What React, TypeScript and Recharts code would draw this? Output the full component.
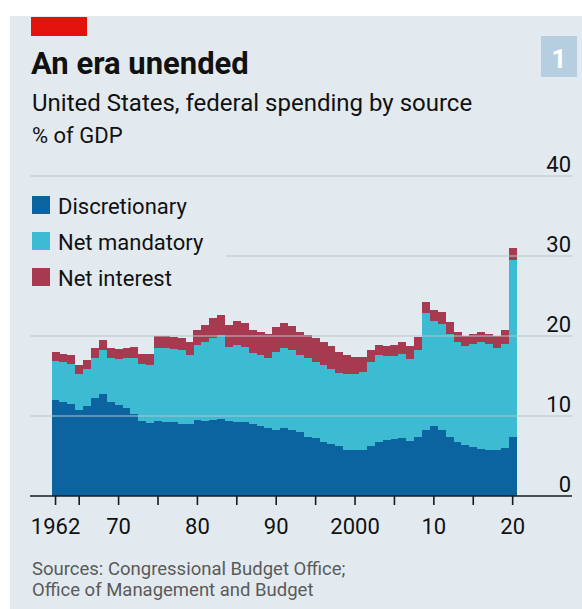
import { BarChart, Bar, XAxis, YAxis, ReferenceLine } from 'recharts';

// % of GDP, fiscal years 1962-2020
const years = [
  1962, 1963, 1964, 1965, 1966, 1967, 1968, 1969, 1970, 1971,
  1972, 1973, 1974, 1975, 1976, 1977, 1978, 1979, 1980, 1981,
  1982, 1983, 1984, 1985, 1986, 1987, 1988, 1989, 1990, 1991,
  1992, 1993, 1994, 1995, 1996, 1997, 1998, 1999, 2000, 2001,
  2002, 2003, 2004, 2005, 2006, 2007, 2008, 2009, 2010, 2011,
  2012, 2013, 2014, 2015, 2016, 2017, 2018, 2019, 2020,
];

const discretionary = [
  12.0, 11.8, 11.5, 10.7, 11.2, 12.2, 12.7, 11.8, 11.4, 11.0,
  10.3, 9.4, 9.1, 9.4, 9.3, 9.3, 9.0, 9.0, 9.5, 9.4,
  9.5, 9.6, 9.4, 9.3, 9.3, 9.0, 8.75, 8.45, 8.25, 8.45,
  8.2, 8.0, 7.4, 7.2, 6.8, 6.5, 6.2, 5.8, 5.75, 5.8,
  6.2, 6.8, 7.0, 7.1, 7.2, 6.9, 7.4, 8.25, 8.7, 8.25,
  7.4, 6.8, 6.4, 6.1, 5.9, 5.75, 5.75, 6.0, 7.4,
];

const netMandatory = [
  4.9, 4.9, 5.0, 4.6, 4.7, 5.1, 5.6, 5.4, 5.7, 6.2,
  7.0, 7.1, 7.3, 9.1, 9.2, 9.1, 9.2, 8.6, 9.4, 9.8,
  10.3, 10.5, 9.2, 9.6, 9.3, 8.9, 8.85, 8.85, 9.75, 10.05,
  10.0, 9.6, 9.9, 9.5, 9.6, 9.4, 9.2, 9.5, 9.55, 9.7,
  10.55, 10.8, 10.45, 10.4, 10.5, 10.2, 10.9, 14.65, 13.15, 13.25,
  12.9, 12.45, 12.3, 12.95, 13.35, 13.25, 12.75, 13.05, 22.1,
];

const netInterest = [
  1.1, 1.1, 1.1, 1.1, 1.1, 1.2, 1.2, 1.3, 1.3, 1.3,
  1.3, 1.3, 1.4, 1.5, 1.5, 1.5, 1.6, 1.7, 1.9, 2.2,
  2.5, 2.5, 2.8, 3.0, 3.0, 2.9, 2.9, 3.0, 3.1, 3.1,
  3.0, 2.9, 2.8, 3.0, 2.9, 2.8, 2.6, 2.3, 2.1, 1.9,
  1.5, 1.3, 1.3, 1.4, 1.6, 1.6, 1.6, 1.4, 1.4, 1.5,
  1.4, 1.3, 1.3, 1.2, 1.3, 1.3, 1.5, 1.7, 1.5,
];

const xTicks = [1962, 1965, 1970, 1975, 1980, 1985, 1990, 1995, 2000, 2005, 2010, 2015, 2020];
const xTickLabels: Record<number, string> = {
  1962: '1962', 1970: '70', 1980: '80', 1990: '90', 2000: '2000', 2010: '10', 2020: '20',
};
const yTicks = [0, 10, 20, 30, 40];

const COLORS = {
  discretionary: '#0b64a0',
  mandatory: '#3dbbd3',
  interest: '#a63a50',
  panel: '#e2eaf0',
  grid: '#b8c3cb',
  text: '#111111',
  source: '#5a5a5a',
};

const FONT = 'Roboto, sans-serif';

const data = years.map((year, i) => ({
  year,
  discretionary: discretionary[i],
  mandatory: netMandatory[i],
  interest: netInterest[i],
}));

function XTick(props: any) {
  const { x, y, payload } = props;
  const label = xTickLabels[payload.value] ?? '';
  return (
    <text x={x} y={y + 27} textAnchor="middle" fontFamily={FONT} fontSize={22} fill={COLORS.text}>
      {label}
    </text>
  );
}

function YTick(props: any) {
  const { x, y, payload } = props;
  return (
    <text x={x - 1} y={y - 4} textAnchor="end" fontFamily={FONT} fontSize={22} fill={COLORS.text}>
      {payload.value}
    </text>
  );
}

const legendItems = [
  { label: 'Discretionary', color: COLORS.discretionary },
  { label: 'Net mandatory', color: COLORS.mandatory },
  { label: 'Net interest', color: COLORS.interest },
];

export default function App() {
  return (
    <div style={{ position: 'absolute', left: 0, top: 0, width: 582, height: 609, background: '#fff', overflow: 'hidden' }}>
      <style>{'.recharts-bar-rectangle path { shape-rendering: crispEdges; }'}</style>
      <div style={{ position: 'absolute', left: 10, top: 16, width: 572, height: 593, background: COLORS.panel }} />
      <div style={{ position: 'absolute', left: 0, top: 0 }}>
        <BarChart
          width={582}
          height={609}
          data={data}
          barCategoryGap={0}
          barGap={0}
          margin={{ top: 176, right: 10, bottom: 73, left: 30 }}
        >
          <XAxis
            dataKey="year"
            type="category"
            ticks={xTicks}
            interval={0}
            padding={{ left: 21.6, right: 55.4 }}
            height={40}
            axisLine={false}
            tickLine={{ stroke: '#1a1a1a', strokeWidth: 1.6 }}
            tickSize={9}
            tick={<XTick />}
          />
          <YAxis
            orientation="right"
            mirror
            width={1}
            domain={[0, 40]}
            ticks={yTicks}
            interval={0}
            axisLine={false}
            tickLine={false}
            tickSize={0}
            tickMargin={0}
            tick={<YTick />}
          />
          {yTicks.map((v) =>
            v === 0 ? null : (
              <ReferenceLine key={v} y={v} stroke={COLORS.grid} strokeWidth={1.2} ifOverflow="visible" />
            ),
          )}
          <Bar dataKey="discretionary" stackId="a" fill={COLORS.discretionary} isAnimationActive={false} />
          <Bar dataKey="mandatory" stackId="a" fill={COLORS.mandatory} isAnimationActive={false} />
          <Bar dataKey="interest" stackId="a" fill={COLORS.interest} isAnimationActive={false} />
          <ReferenceLine y={0} stroke="#1a1a1a" strokeWidth={1.6} ifOverflow="visible" />
        </BarChart>
      </div>
      <svg
        width={582}
        height={609}
        style={{ position: 'absolute', left: 0, top: 0, pointerEvents: 'none' }}
        fontFamily={FONT}
      >
        <rect x={31} y={17} width={56} height={19} fill="#e3120b" />
        <rect x={541} y={36} width={36} height={41} fill="#b6cfe0" />
        <text x={559} y={68} textAnchor="middle" fontSize={26} fontWeight={700} fill="#ffffff">1</text>
        <text x={31} y={74} fontSize={31} fontWeight={700} fill={COLORS.text}>An era unended</text>
        <text x={32} y={111} fontSize={24} fill={COLORS.text}>United States, federal spending by source</text>
        <text x={32} y={143} fontSize={22} fill={COLORS.text}>% of GDP</text>
        <rect x={30} y={186} width={196} height={106} fill={COLORS.panel} />
        {legendItems.map((item, i) => (
          <g key={item.label}>
            <rect x={32} y={196 + i * 36} width={18} height={18} fill={item.color} />
            <text x={58} y={214 + i * 36} fontSize={22} fill={COLORS.text}>{item.label}</text>
          </g>
        ))}
        <text x={32} y={575} fontSize={18.5} fill={COLORS.source}>Sources: Congressional Budget Office;</text>
        <text x={32} y={596} fontSize={18.5} fill={COLORS.source}>Office of Management and Budget</text>
      </svg>
    </div>
  );
}
